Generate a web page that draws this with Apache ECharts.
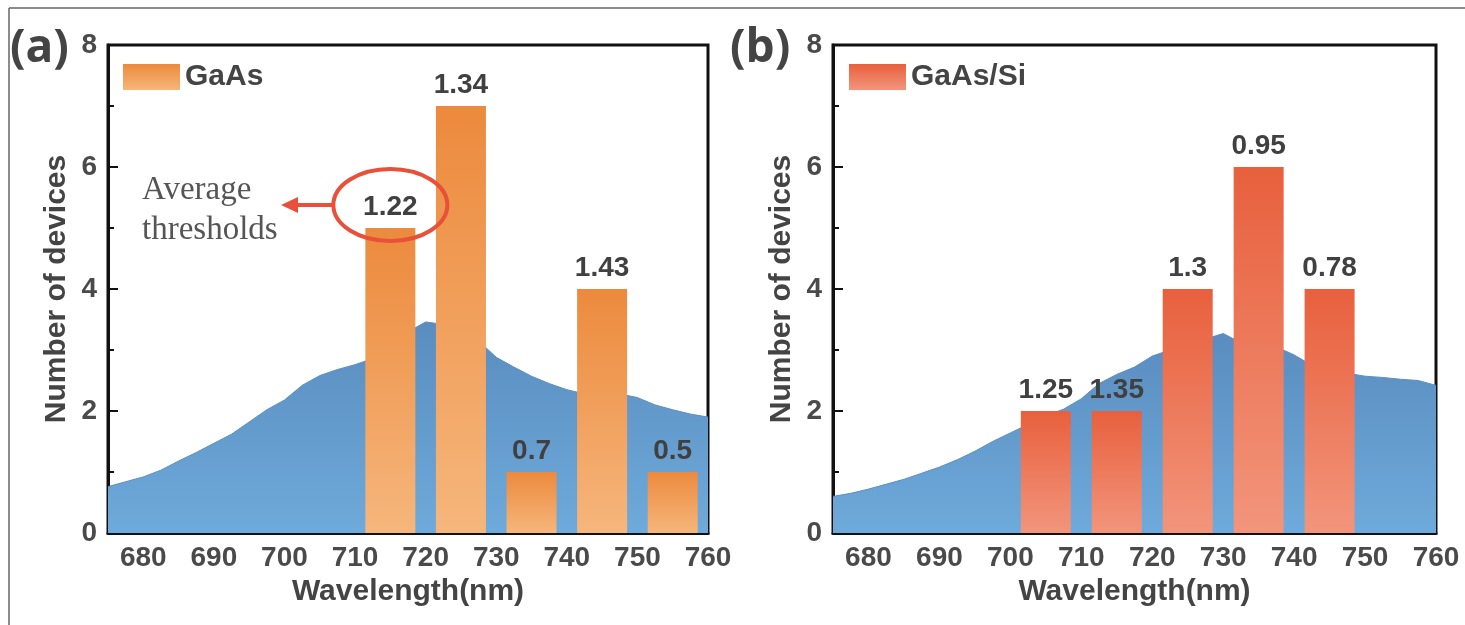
<!DOCTYPE html>
<html>
<head>
<meta charset="utf-8">
<script src="https://cdn.jsdelivr.net/npm/echarts@6/dist/echarts.min.js"></script>
<style>
html, body { margin: 0; padding: 0; background: #ffffff; }
#chart { width: 1465px; height: 625px; }
</style>
</head>
<body>
<div id="chart"></div>
<script>
// 光谱波长 (nm)
var specWl = [675, 677.5, 680, 682.5, 685, 687.5, 690, 692.5, 695, 697.5, 700, 702.5, 705, 707.5, 710, 712.5,
  715, 717.5, 720, 722.5, 725, 727.5, 730, 732.5, 735, 737.5, 740, 742.5, 745, 747.5, 750, 752.5, 755, 757.5, 760]
// (a) GaAs 光谱
var specA = [0.76, 0.84, 0.92, 1.03, 1.18, 1.32, 1.47, 1.62, 1.82, 2.02, 2.18, 2.42, 2.58, 2.68, 2.76, 2.86,
  3.05, 3.3, 3.46, 3.42, 3.35, 3.15, 2.88, 2.72, 2.57, 2.45, 2.35, 2.28, 2.3, 2.28, 2.22, 2.1, 2.02, 1.95, 1.9]
// (b) GaAs/Si 光谱
var specB = [0.6, 0.65, 0.72, 0.8, 0.88, 0.98, 1.08, 1.2, 1.34, 1.5, 1.64, 1.78, 1.92, 2.03, 2.2, 2.45,
  2.6, 2.72, 2.9, 3.0, 3.05, 3.18, 3.27, 3.12, 3.08, 3.05, 2.92, 2.75, 2.68, 2.62, 2.57, 2.55, 2.52, 2.5, 2.42]

// 柱状图数据
var gaasWl = [715, 725, 735, 745, 755]
var gaasCount = [5, 7, 1, 4, 1]
var gaasThr = ['1.22', '1.34', '0.7', '1.43', '0.5']

var siWl = [705, 715, 725, 735, 745]
var siCount = [2, 2, 4, 6, 4]
var siThr = ['1.25', '1.35', '1.3', '0.95', '0.78']

var FONT = 'Liberation Sans, Arial, sans-serif'
var TXT = '#444444'

function zip(xs, ys) {
  return xs.map(function (x, i) { return [x, ys[i]] })
}

function vgrad(top, bottom) {
  return new echarts.graphic.LinearGradient(0, 0, 0, 1, [
    { offset: 0, color: top },
    { offset: 1, color: bottom }
  ])
}

function xAxisCfg(gi) {
  return {
    type: 'value',
    gridIndex: gi,
    min: 675,
    max: 760,
    interval: 5,
    name: 'Wavelength(nm)',
    nameLocation: 'middle',
    nameGap: 44,
    nameTextStyle: { fontSize: 30, fontWeight: 'bold', color: TXT, fontFamily: FONT },
    axisLine: { lineStyle: { color: '#111', width: 3 } },
    axisTick: { inside: true, length: 7, lineStyle: { color: '#111', width: 2 } },
    axisLabel: {
      margin: 11,
      fontSize: 28,
      fontWeight: 'bold',
      color: '#4a4a4a',
      fontFamily: FONT,
      formatter: function (v) { return v % 10 === 0 ? String(v) : '' }
    },
    splitLine: { show: false }
  }
}

function yAxisCfg(gi) {
  return {
    type: 'value',
    gridIndex: gi,
    min: 0,
    max: 8,
    interval: 2,
    name: 'Number of devices',
    nameLocation: 'middle',
    nameGap: 36,
    nameTextStyle: { fontSize: 30, fontWeight: 'bold', color: TXT, fontFamily: FONT },
    axisLine: { show: true, lineStyle: { color: '#111', width: 3 } },
    axisTick: { inside: true, length: 10, lineStyle: { color: '#111', width: 2 } },
    minorTick: { show: true, splitNumber: 2, length: 6, lineStyle: { color: '#111', width: 2 } },
    axisLabel: { margin: 11, fontSize: 28, fontWeight: 'bold', color: '#4a4a4a', fontFamily: FONT },
    splitLine: { show: false }
  }
}

function barLabel(texts) {
  return {
    show: true,
    position: 'top',
    distance: 7,
    fontSize: 28,
    fontWeight: 'bold',
    color: '#404040',
    fontFamily: FONT,
    formatter: function (p) { return texts[p.dataIndex] }
  }
}

function legendCfg(name, left) {
  return {
    data: [name],
    left: left,
    top: 62,
    icon: 'rect',
    itemWidth: 57,
    itemHeight: 26,
    itemGap: 8,
    selectedMode: false,
    padding: 0,
    textStyle: { fontSize: 30, fontWeight: 'bold', color: TXT, fontFamily: FONT }
  }
}

var chart = echarts.init(document.getElementById('chart'))

var option = {
  animation: false,
  backgroundColor: '#ffffff',
  legend: [legendCfg('GaAs', 123), legendCfg('GaAs/Si', 849)],
  grid: [
    { left: 108, top: 45, width: 600, height: 488, show: true, borderColor: '#111', borderWidth: 3, backgroundColor: 'transparent' },
    { left: 833, top: 45, width: 603, height: 488, show: true, borderColor: '#111', borderWidth: 3, backgroundColor: 'transparent' }
  ],
  xAxis: [xAxisCfg(0), xAxisCfg(1)],
  yAxis: [yAxisCfg(0), yAxisCfg(1)],
  series: [
    {
      name: 'specA',
      type: 'line',
      xAxisIndex: 0,
      yAxisIndex: 0,
      data: zip(specWl, specA),
      symbol: 'none',
      silent: true,
      z: 1,
      lineStyle: { width: 1, color: '#5c8fc1' },
      areaStyle: { opacity: 1, color: vgrad('#5a8cbf', '#6eaadb') }
    },
    {
      name: 'GaAs',
      type: 'bar',
      xAxisIndex: 0,
      yAxisIndex: 0,
      data: zip(gaasWl, gaasCount),
      barWidth: 50,
      z: 3,
      itemStyle: { color: vgrad('#ec8a3d', '#f6b67c') },
      label: barLabel(gaasThr)
    },
    {
      name: 'specB',
      type: 'line',
      xAxisIndex: 1,
      yAxisIndex: 1,
      data: zip(specWl, specB),
      symbol: 'none',
      silent: true,
      z: 1,
      lineStyle: { width: 1, color: '#5c8fc1' },
      areaStyle: { opacity: 1, color: vgrad('#5a8cbf', '#6eaadb') }
    },
    {
      name: 'GaAs/Si',
      type: 'bar',
      xAxisIndex: 1,
      yAxisIndex: 1,
      data: zip(siWl, siCount),
      barWidth: 50,
      z: 3,
      itemStyle: { color: vgrad('#e8603d', '#f2957c') },
      label: barLabel(siThr)
    }
  ]
}
chart.setOption(option)

// 标注：平均阈值的椭圆和箭头
var top0 = chart.convertToPixel({ gridIndex: 0 }, [gaasWl[0], gaasCount[0]])
var ex = top0[0]
var ey = top0[1] - 23
var erx = 57
var ery = 36

chart.setOption({
  graphic: [
    // 外框
    { type: 'line', shape: { x1: 9, y1: 8, x2: 1465, y2: 8 }, style: { stroke: '#666', lineWidth: 1.5 }, silent: true },
    { type: 'line', shape: { x1: 9, y1: 8, x2: 9, y2: 625 }, style: { stroke: '#666', lineWidth: 1.5 }, silent: true },
    // 面板编号
    { type: 'text', left: 10, top: 26, style: { text: '(a)', fontSize: 46, fontWeight: 'bold', fill: TXT, fontFamily: 'Open Sans, Liberation Sans, sans-serif' } },
    { type: 'text', left: 730, top: 26, style: { text: '(b)', fontSize: 46, fontWeight: 'bold', fill: TXT, fontFamily: 'Open Sans, Liberation Sans, sans-serif' } },
    // 注释文字
    {
      type: 'text', left: 142, top: 170,
      style: { text: 'Average\nthresholds', fontSize: 33, lineHeight: 40, fill: '#555', fontFamily: 'Liberation Serif, Times New Roman, serif' }
    },
    {
      type: 'ellipse', z: 10,
      shape: { cx: ex, cy: ey, rx: erx, ry: ery },
      style: { fill: 'none', stroke: '#e8503a', lineWidth: 4 }
    },
    {
      type: 'line', z: 10,
      shape: { x1: ex - erx, y1: ey, x2: 292, y2: ey },
      style: { stroke: '#e8503a', lineWidth: 4 }
    },
    {
      type: 'polygon', z: 10,
      shape: { points: [[281, ey], [298, ey - 8], [298, ey + 8]] },
      style: { fill: '#e8503a' }
    }
  ]
})
</script>
</body>
</html>
